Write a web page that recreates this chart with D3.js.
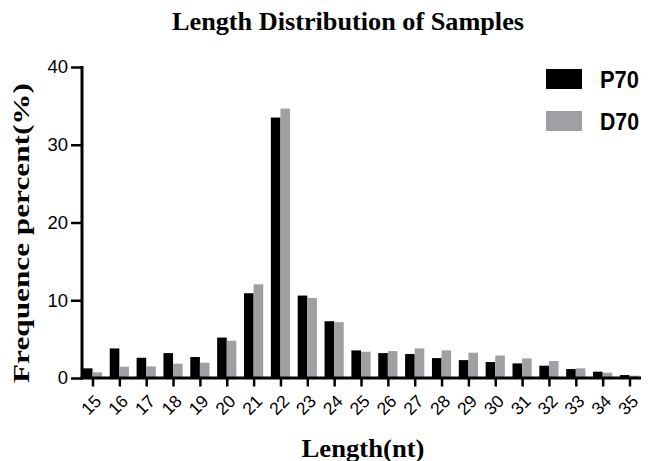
<!DOCTYPE html>
<html><head><meta charset="utf-8">
<script src="https://cdn.jsdelivr.net/npm/d3@7"></script>
<style>body{margin:0;background:#fff}svg{display:block}</style>
</head><body>
<svg id="c" width="648" height="461"></svg>
<script>
const categories = ["15","16","17","18","19","20","21","22","23","24","25","26","27","28","29","30","31","32","33","34","35"];
const seriesNames = ["P70","D70"];
const p70 = [1.24,3.8,2.6,3.2,2.7,5.2,10.9,33.5,10.6,7.3,3.55,3.2,3.08,2.56,2.3,2.05,1.88,1.58,1.15,0.81,0.38];
const d70 = [0.73,1.45,1.5,1.84,1.97,4.8,12.05,34.65,10.3,7.18,3.38,3.46,3.8,3.55,3.25,2.9,2.52,2.18,1.24,0.68,0.3];
const yTicks = [0,10,20,30,40];
const colors = {P70:"#000000", D70:"#a0a0a4"};

const svg = d3.select("#c");
const x = d3.scalePoint().domain(categories).range([92.5, 629.5]);
const xs = d3.scaleBand().domain(seriesNames).range([-9.6, 9.6]);
const y = d3.scaleLinear().domain([0,40]).range([378, 67]);

const rows = categories.map((c,i)=>({c, P70:p70[i], D70:d70[i]}));

const g = svg.append("g");
rows.forEach(r=>{
  seriesNames.forEach(s=>{
    g.append("rect")
      .attr("x", x(r.c)+xs(s))
      .attr("width", xs.bandwidth())
      .attr("y", y(r[s]))
      .attr("height", y(0)-y(r[s]))
      .attr("fill", colors[s]);
  });
});

// y axis
const ya = svg.append("g").attr("transform","translate(82,0)")
  .call(d3.axisLeft(y).tickValues(yTicks).tickSize(11).tickPadding(3));
ya.select(".domain").attr("stroke","#000").attr("stroke-width",3).attr("d","M0,"+(y(40)-1)+"V"+(y(0)+1.5));
ya.selectAll(".tick line").attr("stroke","#000").attr("stroke-width",2.5);
ya.selectAll(".tick text").attr("font-family","Liberation Sans, Arial, sans-serif").attr("font-size",18.5).attr("fill","#000");

// x axis
const xa = svg.append("g").attr("transform","translate(0,378)")
  .call(d3.axisBottom(x).tickSize(8.5).tickPadding(4));
xa.select(".domain").attr("stroke","#000").attr("stroke-width",3).attr("d","M80.5,0H641");
xa.selectAll(".tick line").attr("stroke","#000").attr("stroke-width",2.5);
xa.selectAll(".tick text")
  .attr("font-family","Liberation Sans, Arial, sans-serif").attr("font-size",17.5).attr("fill","#000")
  .attr("text-anchor","end").attr("dy","0.35em")
  .attr("transform","translate(5,20) rotate(-45)").attr("x",0).attr("y",0);

// titles
svg.append("text").attr("x",348).attr("y",30).attr("text-anchor","middle")
  .attr("font-family","Liberation Serif, Times New Roman, serif").attr("font-weight","bold").attr("font-size",26)
  .attr("textLength",352).attr("lengthAdjust","spacingAndGlyphs")
  .text("Length Distribution of Samples");
svg.append("text").attr("x",363).attr("y",457).attr("text-anchor","middle")
  .attr("font-family","Liberation Serif, Times New Roman, serif").attr("font-weight","bold").attr("font-size",25)
  .attr("textLength",123).attr("lengthAdjust","spacingAndGlyphs")
  .text("Length(nt)");
svg.append("text").attr("transform","translate(29,233) rotate(-90)").attr("text-anchor","middle")
  .attr("font-family","Liberation Serif, Times New Roman, serif").attr("font-weight","bold").attr("font-size",24)
  .attr("textLength",300).attr("lengthAdjust","spacingAndGlyphs")
  .text("Frequence percent(%)");

// legend
seriesNames.forEach((s,i)=>{
  const ly = 69 + i*42;
  svg.append("rect").attr("x",546).attr("y",ly).attr("width",36).attr("height",20).attr("fill",colors[s]);
  svg.append("text").attr("x",600).attr("y",ly+18.7)
    .attr("font-family","Liberation Sans, Arial, sans-serif").attr("font-weight","bold").attr("font-size",23)
    .attr("textLength",39).attr("lengthAdjust","spacingAndGlyphs")
    .text(s);
});
</script>
</body></html>
